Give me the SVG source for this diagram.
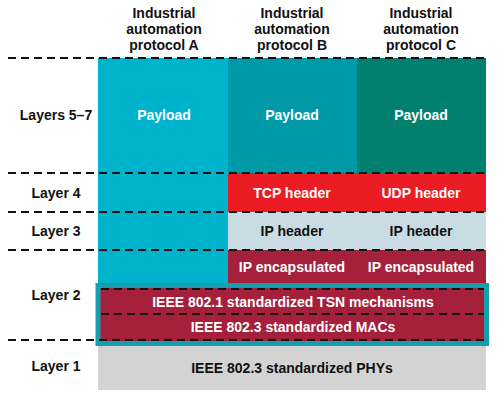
<svg xmlns="http://www.w3.org/2000/svg" width="500" height="396" viewBox="0 0 500 396">
<style>
text{font-family:"Liberation Sans",Arial,sans-serif;font-weight:bold;font-size:14px;text-anchor:middle}
.w{fill:#fff}
.k{fill:#111}
.dash{stroke:#111;stroke-width:2;stroke-dasharray:8 5;fill:none}
</style>
<rect width="500" height="396" fill="#fff"/>
<g id="headers">
<text class="k" x="164" y="18">Industrial</text>
<text class="k" x="164" y="34">automation</text>
<text class="k" x="164" y="50">protocol A</text>
<text class="k" x="292" y="18">Industrial</text>
<text class="k" x="292" y="34">automation</text>
<text class="k" x="292" y="50">protocol B</text>
<text class="k" x="421" y="18">Industrial</text>
<text class="k" x="421" y="34">automation</text>
<text class="k" x="421" y="50">protocol C</text>
</g>
<g id="layer-labels">
<text class="k" x="56" y="120">Layers 5–7</text>
<text class="k" x="56" y="198">Layer 4</text>
<text class="k" x="56" y="236">Layer 3</text>
<text class="k" x="56" y="300">Layer 2</text>
<text class="k" x="56" y="371">Layer 1</text>
</g>
<g id="colA">
<rect x="98" y="58" width="130" height="226" fill="#00b3cd"/>
<text class="w" x="164" y="120">Payload</text>
</g>
<g id="colB">
<rect x="228" y="58" width="129" height="115" fill="#0099a8"/>
<text class="w" x="292" y="120">Payload</text>
<rect x="228" y="173" width="129" height="39" fill="#ec1c24"/>
<text class="w" x="292" y="198">TCP header</text>
<rect x="228" y="212" width="129" height="38" fill="#c9dbe3"/>
<text class="k" x="292" y="236">IP header</text>
<rect x="228" y="250" width="129" height="34" fill="#a4203b"/>
<text class="w" x="292" y="272">IP encapsulated</text>
</g>
<g id="colC">
<rect x="357" y="58" width="129" height="115" fill="#018070"/>
<text class="w" x="421" y="120">Payload</text>
<rect x="357" y="173" width="129" height="39" fill="#ec1c24"/>
<text class="w" x="421" y="198">UDP header</text>
<rect x="357" y="212" width="129" height="38" fill="#c9dbe3"/>
<text class="k" x="421" y="236">IP header</text>
<rect x="357" y="250" width="129" height="34" fill="#a4203b"/>
<text class="w" x="421" y="272">IP encapsulated</text>
</g>
<g id="layer1">
<rect x="98" y="345" width="388" height="45" fill="#d3d3d3"/>
<text class="k" x="292" y="373">IEEE 802.3 standardized PHYs</text>
</g>
<g id="layer2">
<rect x="98" y="285.5" width="388.5" height="58" fill="#a4203b" stroke="#159fae" stroke-width="5"/>
<text class="w" x="293" y="307">IEEE 802.1 standardized TSN mechanisms</text>
<text class="w" x="293" y="332">IEEE 802.3 standardized MACs</text>
</g>
<g id="connectors">
<line class="dash" x1="8" y1="58" x2="486" y2="58"/>
<line class="dash" x1="8" y1="173" x2="486" y2="173"/>
<line class="dash" x1="8" y1="212" x2="486" y2="212"/>
<line class="dash" x1="8" y1="250" x2="486" y2="250"/>
<line class="dash" x1="101" y1="289" x2="484" y2="289"/>
<line class="dash" x1="101" y1="314" x2="484" y2="314"/>
<line class="dash" x1="8" y1="340" x2="486" y2="340"/>
</g>
</svg>
